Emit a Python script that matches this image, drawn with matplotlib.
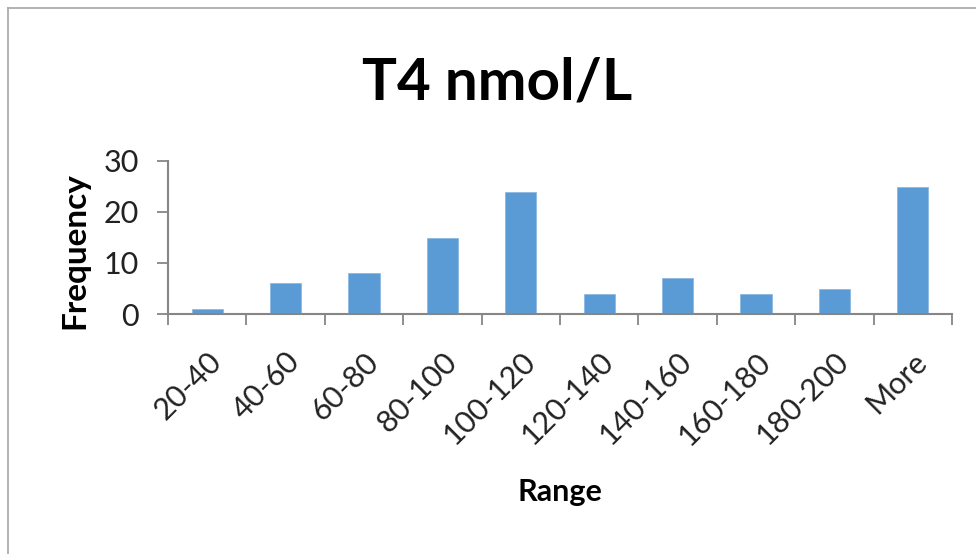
import matplotlib
matplotlib.use("Agg")
import matplotlib.pyplot as plt
from matplotlib.lines import Line2D

# data
faixas = ["20-40", "40-60", "60-80", "80-100", "100-120",
          "120-140", "140-160", "160-180", "180-200", "More"]
frequencia = [1, 6, 8, 15, 24, 4, 7, 4, 5, 25]
yticks = [0, 10, 20, 30]

plt.rcParams['font.family'] = ['Lato', 'DejaVu Sans']

cinza = "#868686"
azul = "#5B9BD5"

fig = plt.figure(figsize=(9.76, 5.54), dpi=100)
ax = fig.add_axes([168/976, 1 - 314/554, (952 - 168)/976, (314 - 161)/554])

x = list(range(len(faixas)))
ax.bar(x, frequencia, width=0.4, color=azul, edgecolor="#8DB8E2", linewidth=0.6, zorder=2)

ax.set_xlim(-0.5, len(faixas) - 0.5)
ax.set_ylim(0, 30)
ax.set_yticks(yticks)
ax.set_yticklabels([str(v) for v in yticks], fontsize=22, color="#222222")

# category labels at centres, tick marks at the borders
ax.set_xticks(x)
ax.set_xticklabels(faixas, rotation=45, ha="right", rotation_mode="anchor",
                   fontsize=22, color="#222222")
ax.tick_params(axis="x", which="major", length=0, pad=24)
ax.set_xticks([i - 0.5 for i in range(len(faixas) + 1)], minor=True)
ax.tick_params(axis="x", which="minor", length=8, width=1.3, color=cinza, direction="out")
ax.tick_params(axis="y", length=8, width=1.3, color=cinza, direction="out", pad=13)

for lado in ["top", "right"]:
    ax.spines[lado].set_visible(False)
for lado in ["left", "bottom"]:
    ax.spines[lado].set_color(cinza)
    ax.spines[lado].set_linewidth(1.5)

fig.text(497/976, 1 - 100/554, "T4 nmol/L", ha="center", va="baseline",
         fontsize=42, fontweight="bold")
fig.text(560/976, 1 - 492/554, "Range", ha="center", va="center",
         fontsize=22, fontweight="bold")
fig.text(75/976, 1 - 251/554, "Frequency", ha="center", va="center",
         rotation=90, fontsize=24, fontweight="bold")

# moldura do grafico (so topo e esquerda aparecem)
fig.add_artist(Line2D([8/976, 8/976], [0, 1 - 8/554], transform=fig.transFigure,
                      color="#A6A6A6", linewidth=1.2))
fig.add_artist(Line2D([8/976, 1], [1 - 8/554, 1 - 8/554], transform=fig.transFigure,
                      color="#A6A6A6", linewidth=1.2))

fig.savefig("out.png", dpi=100, facecolor="white")
